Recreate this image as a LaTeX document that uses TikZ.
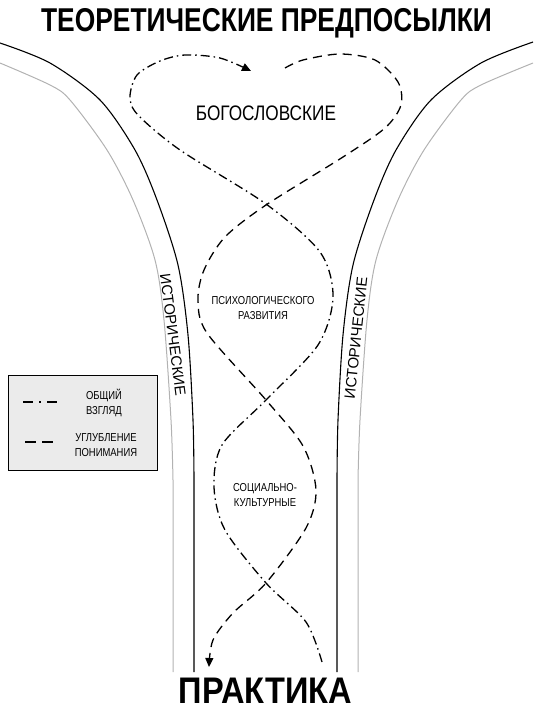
\documentclass[tikz,border=0pt]{standalone}
\usepackage{fontspec}
\setmainfont{Liberation Sans}
\newfontfamily\condfont[FakeStretch=0.82]{Liberation Sans}
\newfontfamily\titlefont[FakeStretch=0.8]{Liberation Sans}
\newfontfamily\basefont[FakeStretch=0.88]{Liberation Sans}
\usetikzlibrary{arrows.meta, positioning}
\tikzset{
    % Texts
    heading/.style   = {font=\titlefont\bfseries\fontsize{33}{36}\selectfont, anchor=base, inner sep=0pt},
    field/.style     = {font=\condfont\fontsize{21}{24}\selectfont, anchor=base, inner sep=0pt},
    smalltext/.style = {font=\condfont\fontsize{11.5}{15}\selectfont, align=center, inner sep=0pt},
    sidetext/.style  = {font=\fontsize{15}{18}\selectfont, inner sep=0pt},
    % Walls of the funnel
    wall/.style = {line width=1.1pt, black},
    rim/.style  = {line width=1pt, black!30},
    % Paths and legend
    overview/.style  = {line width=1.3pt, dash pattern=on 9pt off 4pt on 1.5pt off 4pt},
    deepening/.style = {line width=1.3pt, dash pattern=on 9pt off 6pt},
    pointer/.style   = {-{Triangle[length=9pt, width=8pt]}},
    legendbox/.style = {draw=black, line width=0.8pt, fill=black!8, minimum width=149pt, minimum height=95pt, inner sep=0pt}
}
\begin{document}
\begin{tikzpicture}[x=1pt, y=-1pt]
    \useasboundingbox (0,0) rectangle (533,709);

    % Funnel
    \draw [rim] plot[smooth] coordinates {(0,63) (50,85) (70,100) (107,150) (133,200) (155,260) (164,320) (171,420) (173,480)} -- (173,672);
    \draw [wall] plot[smooth] coordinates {(0,43) (50,63) (100,100) (135,150) (157,200) (178,265) (188,335) (193,420) (194,480)} -- (194,672);
    \draw [wall] plot[smooth] coordinates {(533,42) (481,63) (431,100) (396,150) (374,200) (353,265) (343,335) (338,420) (337,480)} -- (337,672);
    \draw [rim] plot[smooth] coordinates {(533,63) (481,85) (461,100) (424,150) (398,200) (376,260) (367,320) (360,420) (358,480)} -- (358,672);

    % Nodes
    \node (theory) [heading] at (266.5,32) {ТЕОРЕТИЧЕСКИЕ ПРЕДПОСЫЛКИ};
    \node (practice) [heading, font=\basefont\bfseries\fontsize{37}{40}\selectfont] at (265.5,703) {ПРАКТИКА};

    \node (theology) [field] at (266,120) {БОГОСЛОВСКИЕ};
    \node (psychology) [smalltext] at (263,308) {ПСИХОЛОГИЧЕСКОГО\\РАЗВИТИЯ};
    \node (society) [smalltext] at (265,495) {СОЦИАЛЬНО-\\КУЛЬТУРНЫЕ};

    \node (histleft) [sidetext, rotate=-82.6] at (173,335) {ИСТОРИЧЕСКИЕ};
    \node (histright) [sidetext, rotate=84] at (356,338) {ИСТОРИЧЕСКИЕ};

    % Legend
    \node (legend) [legendbox] at (82.5,422.5) {};
    \node (overviewlabel) [smalltext] at (104,403) {ОБЩИЙ\\ВЗГЛЯД};
    \node (deepeninglabel) [smalltext] at (106,445) {УГЛУБЛЕНИЕ\\ПОНИМАНИЯ};
    \draw [overview, dash pattern=on 10pt off 6pt on 2pt off 6pt] (23,402) -- (57,402);
    \draw [deepening, dash pattern=on 11pt off 6pt] (25,442) -- (53,442);

    % Paths
    \draw [overview, pointer] plot[smooth] coordinates {(322,662) (306,622) (266,583) (225,530) (214,487) (222,445) (266,400) (318,345) (333,297) (320,252) (266,204) (180,150) (138,115) (130,97) (137,75) (160,61) (185,55) (220,58) (251,71)};
    \draw [deepening, pointer] plot[smooth] coordinates {(285,68) (303,60) (340,54) (375,60) (398,82) (401,105) (385,128) (343,157) (266,205) (225,237) (204,270) (198,300) (207,333) (266,400) (303,446) (316,490) (306,528) (266,583) (233,613) (213,640) (209,667)};
\end{tikzpicture}
\end{document}
